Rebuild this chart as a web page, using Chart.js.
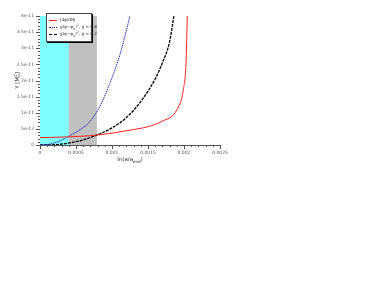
<!DOCTYPE html>
<html><head><meta charset="utf-8">
<script src="https://cdn.jsdelivr.net/npm/chart.js@4/dist/chart.umd.min.js"></script>
<style>
html,body{margin:0;padding:0;background:#fff;}
#wrap{position:relative;width:373px;height:288px;}
#legend{position:absolute;left:46px;top:13px;width:44px;height:27px;border:1px solid #444;background:#fff;box-shadow:1px 1px 0 #000;font-family:"DejaVu Sans",sans-serif;font-size:4.2px;color:#333;}
.it{position:absolute;left:2px;height:6px;width:42px;}
.ln{position:absolute;left:0;top:3px;width:8px;height:0;}
.tx{position:absolute;left:11px;top:0;white-space:nowrap;line-height:6px;}
sub,sup{font-size:3px;line-height:0;}
</style></head>
<body><div id="wrap"><canvas id="c" width="373" height="288"></canvas>
<div id="legend">
 <div class="it" style="top:3px"><div class="ln" style="border-top:1px solid #ff2020"></div><div class="tx">|dφ/dN|</div></div>
 <div class="it" style="top:10px"><div class="ln" style="border-top:1px dotted #2020c0"></div><div class="tx">g(φ−φ<sub>0</sub>)<sup>2</sup>, g = 0.8</div></div>
 <div class="it" style="top:17px"><div class="ln" style="border-top:1.5px dashed #000"></div><div class="tx">g(φ−φ<sub>0</sub>)<sup>2</sup>, g = 0.2</div></div>
</div></div>
<script>
// data
const redX = [0, 0.0003, 0.0008, 0.00125, 0.0015, 0.0017, 0.0019, 0.00199, 0.00203, 0.002046, 0.00206];
const redY = [2.3e-12, 2.45e-12, 3.1e-12, 4.6e-12, 5.7e-12, 7.4e-12, 10.9e-12, 17.1e-12, 26.4e-12, 40e-12, 48e-12];
const blueX = [0, 0.00014, 0.00028, 0.00039, 0.00056, 0.00069, 0.00083, 0.00097, 0.00111, 0.00125];
const blueY = [0, 0.3e-12, 1.3e-12, 2.6e-12, 4.8e-12, 7.2e-12, 11.9e-12, 19.1e-12, 28.0e-12, 40e-12];
const blackX = [0, 0.0002, 0.0004, 0.0006, 0.0008, 0.001, 0.0012, 0.0014, 0.0016, 0.0017, 0.0018, 0.00186];
const blackY = [0, 0.1e-12, 0.6e-12, 1.6e-12, 3.2e-12, 5.3e-12, 8.5e-12, 13.5e-12, 20.5e-12, 25.5e-12, 32e-12, 40e-12];
const cyanBand = [0, 0.0004];
const grayBand = [0, 0.00079];
const xTickLabels = ["0", "0.0005", "0.001", "0.0015", "0.002", "0.0025"];
const yTickLabels = ["0", "5e-12", "1e-11", "1.5e-11", "2e-11", "2.5e-11", "3e-11", "3.5e-11", "4e-11"];
const yMax = 4e-11, xMax = 0.0025;

const pts = (xs, ys) => xs.map((x, i) => ({x, y: ys[i]}));
const band = b => [{x: b[0], y: yMax}, {x: b[1], y: yMax}];

const tickPlugin = {
  id: 'ticks2',
  afterDraw(chart) {
    const ctx = chart.ctx;
    ctx.save();
    ctx.strokeStyle = '#555';
    ctx.lineWidth = 1;
    const xs = chart.scales.x, ys = chart.scales.y;
    xs.ticks.forEach((t, i) => {
      const p = Math.round(xs.getPixelForValue(t.value)) + 0.5;
      const L = i % 5 === 0 ? 4 : 2;
      ctx.beginPath(); ctx.moveTo(p, xs.top); ctx.lineTo(p, xs.top + L); ctx.stroke();
    });
    ys.ticks.forEach((t, i) => {
      const p = Math.round(ys.getPixelForValue(t.value)) + 0.5;
      const L = i % 5 === 0 ? 4 : 2;
      ctx.beginPath(); ctx.moveTo(ys.right, p); ctx.lineTo(ys.right - L, p); ctx.stroke();
    });
    ctx.fillStyle = '#333';
    ctx.textBaseline = 'alphabetic';
    const ca = chart.chartArea;
    const f = s => s + 'px "DejaVu Sans", sans-serif';
    const parts = [["ln(a/a", 5.5, 0], ["end", 4, 1.5], [")", 5.5, 0]];
    let w = 0;
    parts.forEach(p => { ctx.font = f(p[1]); w += ctx.measureText(p[0]).width; });
    let x0 = (ca.left + ca.right) / 2 - w / 2;
    parts.forEach(p => { ctx.font = f(p[1]); ctx.fillText(p[0], x0, 161 + p[2]); x0 += ctx.measureText(p[0]).width; });
    ctx.translate(19, (ca.top + ca.bottom) / 2);
    ctx.rotate(-Math.PI / 2);
    const yp = [["Y [M", 5.5, 0], ["P", 4, 1.5], ["2", 4, -2.5], ["]", 5.5, 0]];
    w = 0;
    yp.forEach((p, i) => { if (i === 2) return; ctx.font = f(p[1]); w += ctx.measureText(p[0]).width; });
    x0 = -w / 2;
    yp.forEach((p, i) => {
      ctx.font = f(p[1]);
      ctx.fillText(p[0], x0, p[2]);
      if (i !== 1) x0 += ctx.measureText(p[0]).width;
    });
    ctx.restore();
  }
};

new Chart(document.getElementById('c'), {
  type: 'scatter',
  data: {
    datasets: [
      {label: '|dφ/dN|', data: pts(redX, redY), showLine: true, borderColor: '#ff2020', borderWidth: 1, pointRadius: 0, cubicInterpolationMode: 'monotone', order: 0},
      {label: 'g=0.8', data: pts(blueX, blueY), showLine: true, borderColor: '#2a2ab8', borderWidth: 1, borderDash: [1.5, 0.7], pointRadius: 0, cubicInterpolationMode: 'monotone', order: 1},
      {label: 'g=0.2', data: pts(blackX, blackY), showLine: true, borderColor: '#000', borderWidth: 1.3, borderDash: [3, 1], pointRadius: 0, cubicInterpolationMode: 'monotone', order: 2},
      {label: 'cyan', data: band(cyanBand), showLine: true, fill: 'start', backgroundColor: '#80ffff', borderWidth: 0, pointRadius: 0, order: 3},
      {label: 'gray', data: band(grayBand), showLine: true, fill: 'start', backgroundColor: '#c0c0c0', borderWidth: 0, pointRadius: 0, order: 4}
    ]
  },
  options: {
    responsive: false, animation: false,
    layout: {padding: {top: 16, right: 153, left: 0, bottom: 0}},
    plugins: {legend: {display: false}, tooltip: {enabled: false}},
    scales: {
      x: {
        type: 'linear', min: 0, max: xMax,
        ticks: {stepSize: 0.0001, autoSkip: false, maxRotation: 0, padding: 5, color: '#555', font: {size: 4.5, family: '"DejaVu Sans", sans-serif'},
          callback: (v, i) => i % 5 === 0 ? xTickLabels[i / 5] : ''},
        grid: {display: true, drawOnChartArea: false, drawTicks: false},
        border: {color: '#555', width: 1},
        afterFit: s => { s.height = 143; }
      },
      y: {
        type: 'linear', min: 0, max: yMax,
        ticks: {stepSize: 1e-12, autoSkip: false, padding: 6, color: '#555', font: {size: 4.5, family: '"DejaVu Sans", sans-serif'},
          callback: (v, i) => i % 5 === 0 ? yTickLabels[i / 5] : ''},
        grid: {display: true, drawOnChartArea: false, drawTicks: false},
        border: {color: '#555', width: 1},
        afterFit: s => { s.width = 40; }
      }
    }
  },
  plugins: [tickPlugin]
});
</script></body></html>
